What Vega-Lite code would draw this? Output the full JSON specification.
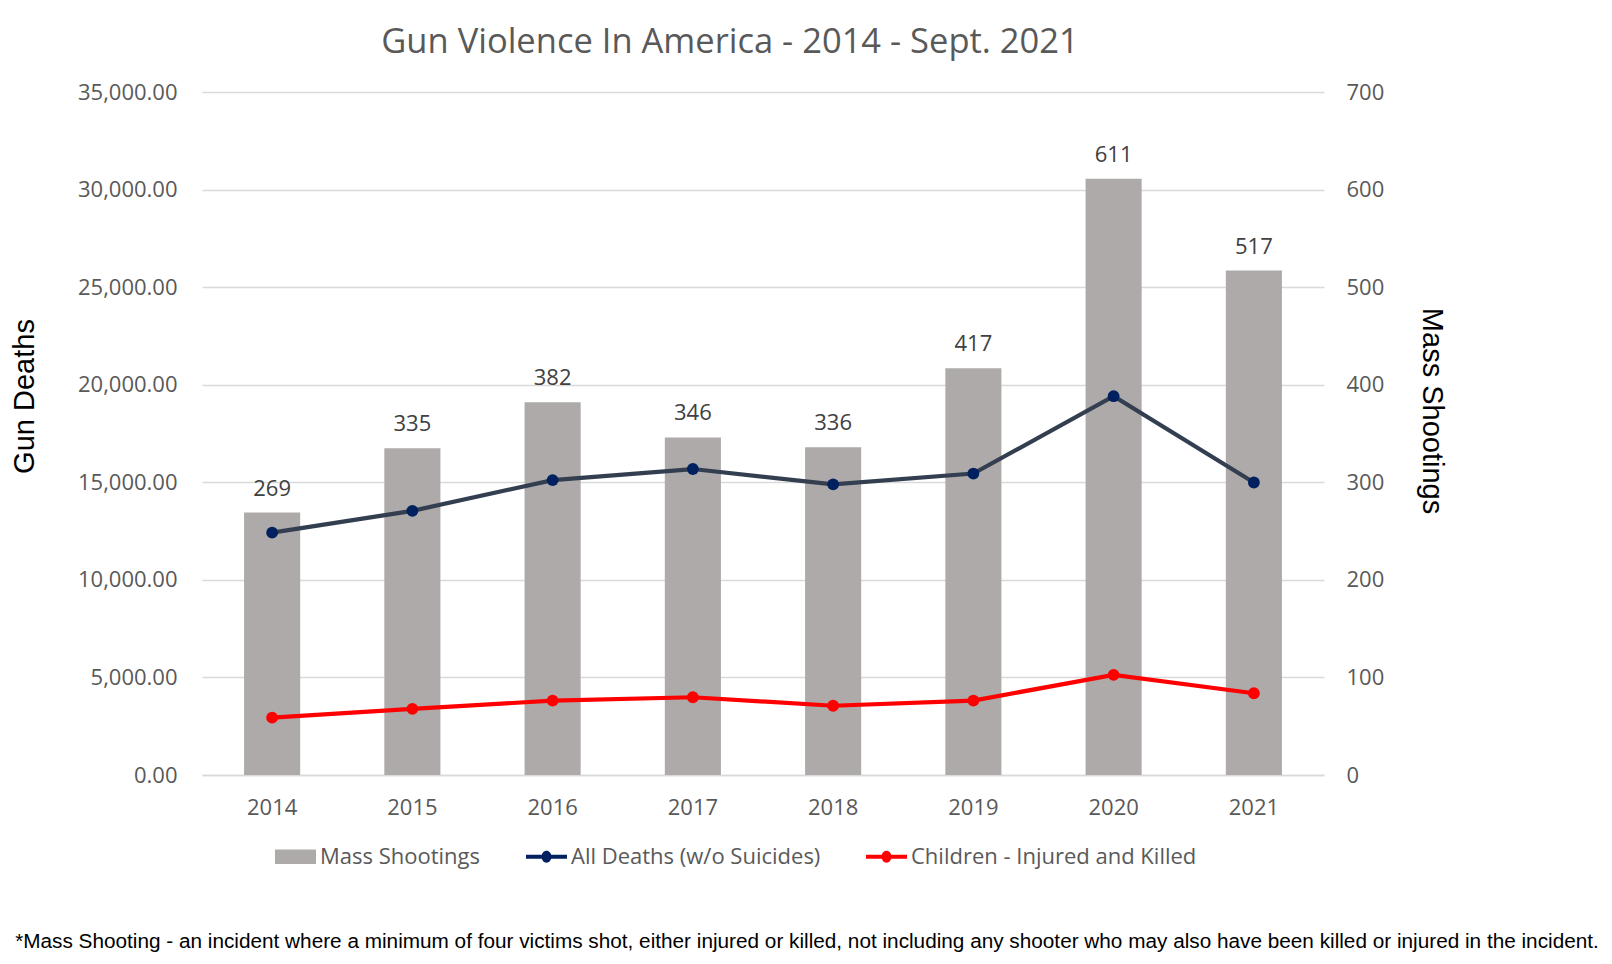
{
  "$schema": "https://vega.github.io/schema/vega-lite/v6.json",
  "width": 1122,
  "height": 683,
  "autosize": {"type": "none"},
  "padding": {"left": 202, "top": 92, "right": 288, "bottom": 189},
  "background": "white",
  "config": {"view": {"stroke": null}, "font": "Open Sans"},
  "title": {
    "text": "Gun Violence In America - 2014 - Sept. 2021",
    "font": "Open Sans",
    "fontSize": 34.5,
    "fontWeight": "normal",
    "color": "#595959",
    "anchor": "middle",
    "frame": "group",
    "dx": -33,
    "offset": -6,
    "baseline": "alphabetic"
  },
  "datasets": {
    "shootings": [
      {"year": "2014", "mass": 269},
      {"year": "2015", "mass": 335},
      {"year": "2016", "mass": 382},
      {"year": "2017", "mass": 346},
      {"year": "2018", "mass": 336},
      {"year": "2019", "mass": 417},
      {"year": "2020", "mass": 611},
      {"year": "2021", "mass": 517}
    ],
    "lines": [
      {"year": "2014", "series": "All Deaths (w/o Suicides)", "value": 12418},
      {"year": "2015", "series": "All Deaths (w/o Suicides)", "value": 13537},
      {"year": "2016", "series": "All Deaths (w/o Suicides)", "value": 15112},
      {"year": "2017", "series": "All Deaths (w/o Suicides)", "value": 15679},
      {"year": "2018", "series": "All Deaths (w/o Suicides)", "value": 14896},
      {"year": "2019", "series": "All Deaths (w/o Suicides)", "value": 15448},
      {"year": "2020", "series": "All Deaths (w/o Suicides)", "value": 19411},
      {"year": "2021", "series": "All Deaths (w/o Suicides)", "value": 14990},
      {"year": "2014", "series": "Children - Injured and Killed", "value": 2940},
      {"year": "2015", "series": "Children - Injured and Killed", "value": 3390},
      {"year": "2016", "series": "Children - Injured and Killed", "value": 3810},
      {"year": "2017", "series": "Children - Injured and Killed", "value": 3985},
      {"year": "2018", "series": "Children - Injured and Killed", "value": 3550},
      {"year": "2019", "series": "Children - Injured and Killed", "value": 3815},
      {"year": "2020", "series": "Children - Injured and Killed", "value": 5130},
      {"year": "2021", "series": "Children - Injured and Killed", "value": 4190}
    ]
  },
  "encoding": {
    "x": {
      "field": "year",
      "type": "ordinal",
      "scale": {"paddingInner": 0.6, "paddingOuter": 0.3},
      "axis": {
        "orient": "bottom",
        "title": "*Mass Shooting - an incident where a minimum of four victims shot, either injured or killed, not including any shooter who may also have been killed or injured in the incident.",
        "titleFont": "Liberation Sans",
        "titleFontSize": 20.75,
        "titleFontWeight": "normal",
        "titleColor": "#000000",
        "titleX": 604.5,
        "titleY": 172,
        "titleBaseline": "alphabetic",
        "titleAlign": "center",
        "titleLimit": 1700,
        "labelAngle": 0,
        "labelFont": "Open Sans",
        "labelFontSize": 22,
        "labelColor": "#595959",
        "labelPadding": 22,
        "ticks": false,
        "domain": true,
        "domainColor": "#D9D9D9",
        "domainWidth": 1.3,
        "grid": false
      }
    }
  },
  "layer": [
    {
      "data": {"name": "shootings"},
      "mark": {"type": "bar", "color": "#AEAAAA"},
      "encoding": {
        "y": {
          "field": "mass",
          "type": "quantitative",
          "scale": {"domain": [0, 700], "nice": false},
          "axis": {
            "orient": "right",
            "title": "Mass Shootings",
            "titleFont": "Liberation Sans",
            "titleFontSize": 29,
            "titleFontWeight": "normal",
            "titleColor": "#000000",
            "titleX": 98.5,
            "titleY": 318.5,
            "titleAngle": 90,
            "titleBaseline": "alphabetic",
            "titleAlign": "center",
            "values": [0, 100, 200, 300, 400, 500, 600, 700],
            "format": "d",
            "labelFont": "Open Sans",
            "labelFontSize": 22,
            "labelColor": "#595959",
            "labelPadding": 22,
            "ticks": false,
            "domain": false,
            "grid": false
          }
        }
      }
    },
    {
      "data": {"name": "shootings"},
      "mark": {"type": "text", "dy": -24, "baseline": "middle", "fontSize": 22, "font": "Open Sans", "color": "#404040"},
      "encoding": {
        "y": {"field": "mass", "type": "quantitative", "scale": {"domain": [0, 700], "nice": false}, "axis": null},
        "text": {"field": "mass", "type": "quantitative"}
      }
    },
    {
      "data": {"name": "lines"},
      "mark": {"type": "line", "strokeWidth": 4.2},
      "encoding": {
        "y": {
          "field": "value",
          "type": "quantitative",
          "scale": {"domain": [0, 35000], "nice": false},
          "axis": {
            "orient": "left",
            "title": "Gun Deaths",
            "titleFont": "Liberation Sans",
            "titleFontSize": 29,
            "titleFontWeight": "normal",
            "titleColor": "#000000",
            "titleX": -169,
            "titleY": 304,
            "titleAngle": -90,
            "titleBaseline": "alphabetic",
            "titleAlign": "center",
            "values": [0, 5000, 10000, 15000, 20000, 25000, 30000, 35000],
            "format": ",.2f",
            "labelFont": "Open Sans",
            "labelFontSize": 22,
            "labelColor": "#595959",
            "labelPadding": 25,
            "ticks": false,
            "domain": false,
            "grid": true,
            "gridColor": "#D9D9D9",
            "gridWidth": 1.3
          }
        },
        "stroke": {
          "field": "series",
          "type": "nominal",
          "scale": {"domain": ["All Deaths (w/o Suicides)", "Children - Injured and Killed"], "range": ["#333F50", "#FF0000"]},
          "legend": null
        }
      }
    },
    {
      "data": {"name": "lines"},
      "mark": {"type": "point", "filled": true, "opacity": 1, "size": 140, "shape": "circle"},
      "encoding": {
        "y": {"field": "value", "type": "quantitative", "scale": {"domain": [0, 35000], "nice": false}, "axis": null},
        "color": {
          "field": "series",
          "type": "nominal",
          "scale": {
            "domain": ["Mass Shootings", "All Deaths (w/o Suicides)", "Children - Injured and Killed"],
            "range": ["#AEAAAA", "#002060", "#FF0000"]
          },
          "legend": {
            "orient": "none",
            "legendX": 73,
            "legendY": 744,
            "direction": "horizontal",
            "title": null,
            "symbolSize": 1681,
            "symbolStrokeWidth": 0,
            "symbolOpacity": 1,
            "labelFont": "Open Sans",
            "labelFontSize": 22,
            "labelColor": "#595959",
            "labelOffset": 4,
            "labelLimit": 500,
            "columnPadding": 45,
            "encoding": {
              "symbols": {
                "shape": {
                  "condition": {"test": "datum.value === 'Mass Shootings'", "value": "M-1,-0.35H1V0.35H-1Z"},
                  "value": "M-1,-0.1H1V0.1H-1Z M-0.24,0A0.24,0.29 0 1,1 0.24,0A0.24,0.29 0 1,1 -0.24,0Z"
                }
              }
            }
          }
        }
      }
    }
  ],
  "resolve": {"scale": {"y": "independent"}}
}
